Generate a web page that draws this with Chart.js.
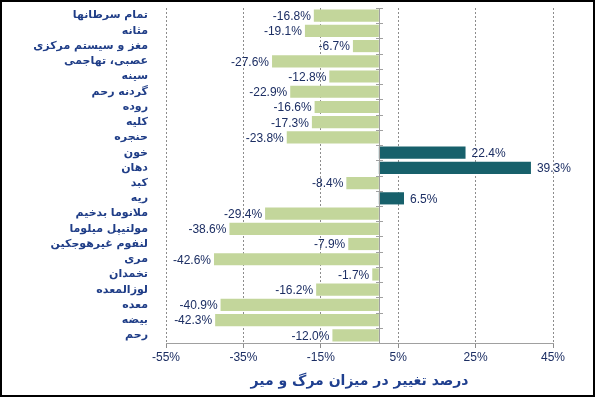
<!DOCTYPE html>
<html><head><meta charset="utf-8">
<script src="https://cdn.jsdelivr.net/npm/chart.js@4/dist/chart.umd.min.js"></script>
<style>html,body{margin:0;padding:0;background:#fff;}#wrap{width:595px;height:397px;position:relative;}</style>
</head><body><div id="wrap"><canvas id="c" width="595" height="397"></canvas></div>
<script>
const categories = ["تمام سرطانها","مثانه","مغز و سیستم مرکزی","عصبی، تهاجمی","سینه","گردنه رحم","روده","کلیه","حنجره","خون","دهان","کبد","ریه","ملانوما بدخیم","مولتیپل میلوما","لنفوم غیرهوجکین","مری","تخمدان","لوزالمعده","معده","بیضه","رحم"];
const changePct = [-16.8,-19.1,-6.7,-27.6,-12.8,-22.9,-16.6,-17.3,-23.8,22.4,39.3,-8.4,6.5,-29.4,-38.6,-7.9,-42.6,-1.7,-16.2,-40.9,-42.3,-12.0];
const xTicks = [-55,-35,-15,5,25,45];
const axisTitle = "درصد تغییر در میزان مرگ و میر";

const NEG = '#c3d69b', POS = '#17606b';

const extras = {
  id: 'extras',
  afterDatasetsDraw(chart) {
    const {ctx, chartArea, scales} = chart;
    const x0 = scales.x.getPixelForValue(0);
    ctx.save();
    ctx.strokeStyle = '#a0a0a0';
    ctx.lineWidth = 1;
    ctx.beginPath();
    ctx.moveTo(Math.round(x0)+0.5, chartArea.top);
    ctx.lineTo(Math.round(x0)+0.5, chartArea.bottom);
    ctx.stroke();
    const n = categories.length;
    const step = scales.y.getPixelForValue(1) - scales.y.getPixelForValue(0);
    for (let i = 0; i <= n; i++) {
      const yb = scales.y.getPixelForValue(0) - step/2 + i*step;
      ctx.beginPath();
      ctx.moveTo(Math.round(x0)-3, Math.round(yb)+0.5);
      ctx.lineTo(Math.round(x0)+4, Math.round(yb)+0.5);
      ctx.stroke();
    }
    ctx.font = '12px "Liberation Sans", Arial, sans-serif';
    ctx.fillStyle = '#1c2e63';
    ctx.textBaseline = 'middle';
    const meta = chart.getDatasetMeta(0);
    meta.data.forEach((bar, i) => {
      const v = changePct[i];
      const txt = v.toFixed(1) + '%';
      if (v < 0) { ctx.textAlign = 'right'; ctx.fillText(txt, bar.x - 3, bar.y + 1); }
      else { ctx.textAlign = 'left'; ctx.fillText(txt, bar.x + 6, bar.y + 1); }
    });
    ctx.restore();
  },
  afterDraw(chart) {
    const ctx = chart.ctx;
    ctx.save();
    ctx.strokeStyle = '#000';
    ctx.lineWidth = 2;
    ctx.strokeRect(1, 1, 593, 395);
    ctx.restore();
  }
};

new Chart(document.getElementById('c'), {
  type: 'bar',
  data: {
    labels: categories,
    datasets: [{
      data: changePct,
      backgroundColor: ctx => (ctx.raw < 0 ? NEG : POS),
      borderWidth: 0,
      categoryPercentage: 1,
      barPercentage: 0.8
    }]
  },
  options: {
    indexAxis: 'y',
    responsive: false,
    animation: false,
    devicePixelRatio: 1,
    layout: { padding: { top: 8, right: 42, bottom: 0, left: 0 } },
    plugins: { legend: { display: false }, tooltip: { enabled: false } },
    scales: {
      x: {
        min: -55, max: 45,
        afterBuildTicks: s => { s.ticks = xTicks.map(v => ({ value: v })); },
        afterFit: s => { s.height = 54; },
        grid: { color: '#8c8c8c', lineWidth: 1, drawTicks: true, tickLength: 5, tickColor: '#8c8c8c' },
        border: { display: true, color: '#a0a0a0', width: 1, dash: [2, 2] },
        ticks: { callback: v => v + '%', color: '#1c2e63', padding: 2, font: { family: '"Liberation Sans", Arial, sans-serif', size: 12 } },
        title: { display: true, text: axisTitle, color: '#1f3f8f', padding: { top: 4, bottom: 7 }, font: { family: '"DejaVu Sans", sans-serif', size: 14, weight: 'bold' } }
      },
      y: {
        afterFit: s => { s.width = 166; },
        grid: { display: true, drawOnChartArea: false, drawTicks: true, tickLength: 18, tickColor: 'rgba(0,0,0,0)' },
        border: { display: false },
        ticks: { autoSkip: false, color: '#1f3d87', padding: 0, font: { family: '"DejaVu Sans", sans-serif', size: 11, weight: 'bold' } }
      }
    }
  },
  plugins: [extras]
});
</script></body></html>
